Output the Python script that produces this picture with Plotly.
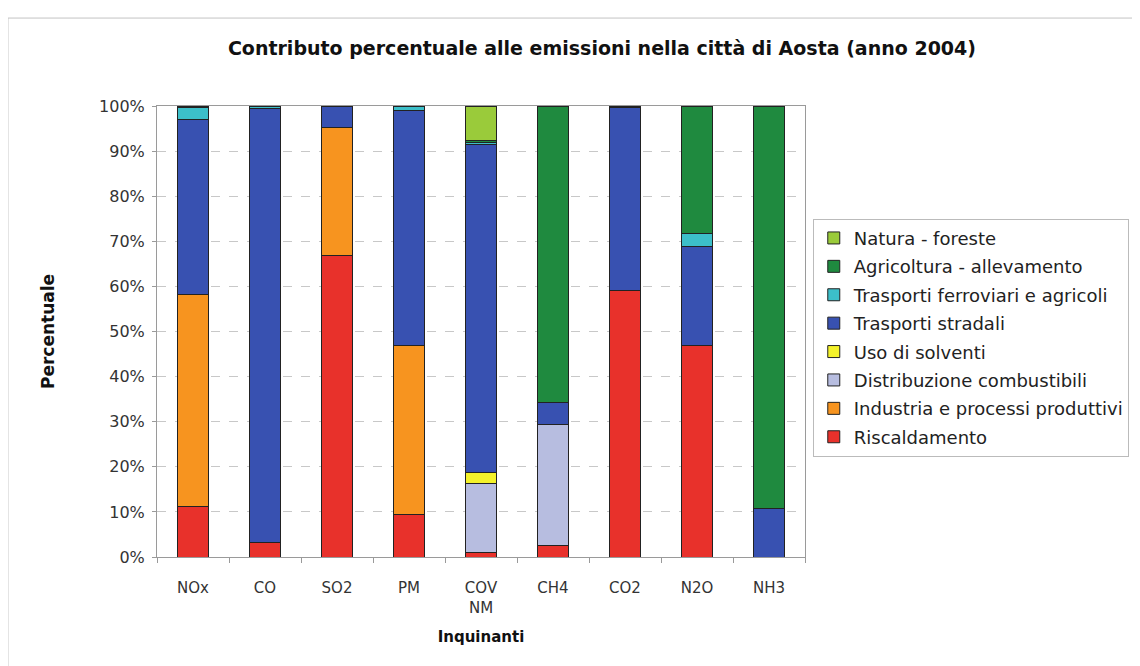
import plotly.graph_objects as go

inquinanti = ["NOx", "CO", "SO2", "PM", "COV<br>NM", "CH4", "CO2", "N2O", "NH3"]

# percent contribution per sector (bottom to top of each bar)
riscaldamento = [11.3, 3.3, 66.8, 9.5, 1.1, 2.6, 59.2, 47.0, 0.0]
industria = [46.8, 0.0, 28.5, 37.5, 0.0, 0.0, 0.0, 0.0, 0.0]
distribuzione = [0.0, 0.0, 0.0, 0.0, 15.2, 26.8, 0.0, 0.0, 0.0]
solventi = [0.0, 0.0, 0.0, 0.0, 2.4, 0.0, 0.0, 0.0, 0.0]
stradali = [39.0, 96.2, 4.5, 52.0, 72.7, 4.9, 40.5, 21.8, 10.8]
ferroviari = [2.6, 0.5, 0.2, 1.0, 0.4, 0.0, 0.3, 3.0, 0.0]
agricoltura = [0.3, 0.0, 0.0, 0.0, 0.6, 65.7, 0.0, 28.2, 89.2]
natura = [0.0, 0.0, 0.0, 0.0, 7.6, 0.0, 0.0, 0.0, 0.0]

serie = [
    ("Riscaldamento", riscaldamento, "#e8312b"),
    ("Industria e processi produttivi", industria, "#f7941f"),
    ("Distribuzione combustibili", distribuzione, "#b7bde0"),
    ("Uso di solventi", solventi, "#f4f22a"),
    ("Trasporti stradali", stradali, "#3851b1"),
    ("Trasporti ferroviari e agricoli", ferroviari, "#3cbfc9"),
    ("Agricoltura - allevamento", agricoltura, "#1f8a3f"),
    ("Natura - foreste", natura, "#9acb3a"),
]

fig = go.Figure()
n = len(serie)
for i, (nome, valori, colore) in enumerate(serie):
    # legend lists the top of the stack first
    fig.add_trace(go.Bar(x=inquinanti, y=valori, name=nome, legendgroup=nome,
                         legendrank=n - i,
                         marker=dict(color=colore, line=dict(color="#222222", width=1))))

font = "DejaVu Sans, Verdana, sans-serif"
fig.update_layout(
    barmode="stack",
    bargap=0.57,
    width=1140, height=666,
    # page is drawn with an 8px body offset, margins compensate for it
    margin=dict(l=149, r=343, t=98, b=117, autoexpand=False),
    paper_bgcolor="white", plot_bgcolor="white",
    font=dict(family=font, size=15, color="#333333"),
    title=dict(text="<b>Contributo percentuale alle emissioni nella città di Aosta (anno 2004)</b>",
               x=0.521, xanchor="center", y=0.94, yanchor="middle",
               font=dict(size=19, color="#111111")),
    legend=dict(traceorder="grouped", x=1.012, xanchor="left", y=0.75, yanchor="top",
                bordercolor="#bbbbbb", borderwidth=1, bgcolor="white",
                font=dict(size=18, color="#222222"), itemwidth=30,
                tracegroupgap=2),
    showlegend=True,
)
fig.update_yaxes(range=[0, 100], tickvals=list(range(0, 101, 10)),
                 ticktext=[f"{v}%" for v in range(0, 101, 10)],
                 tickfont=dict(size=16),
                 showgrid=True, gridcolor="#c8c8c8", griddash="dash",
                 showline=True, linecolor="#9a9a9a", mirror=True,
                 ticks="outside", ticklen=4, tickcolor="#9a9a9a", ticklabelstandoff=4,
                 title=dict(text="<b>Percentuale</b>", font=dict(size=17, color="#111111"), standoff=40),
                 zeroline=False)
fig.update_xaxes(showline=True, linecolor="#9a9a9a", mirror=True,
                 ticks="outside", ticklen=5, tickcolor="#9a9a9a", tickson="boundaries",
                 tickfont=dict(size=15), ticklabelstandoff=17,
                 title=dict(text="<b>Inquinanti</b>", font=dict(size=15, color="#111111"), standoff=15))

# outer chart frame
fig.add_shape(type="rect", xref="paper", yref="paper", x0=-0.23, x1=1.7, y0=-0.4, y1=1.195,
              line=dict(color="#c4c4c4", width=1), layer="below")

fig.write_html("out.html")
